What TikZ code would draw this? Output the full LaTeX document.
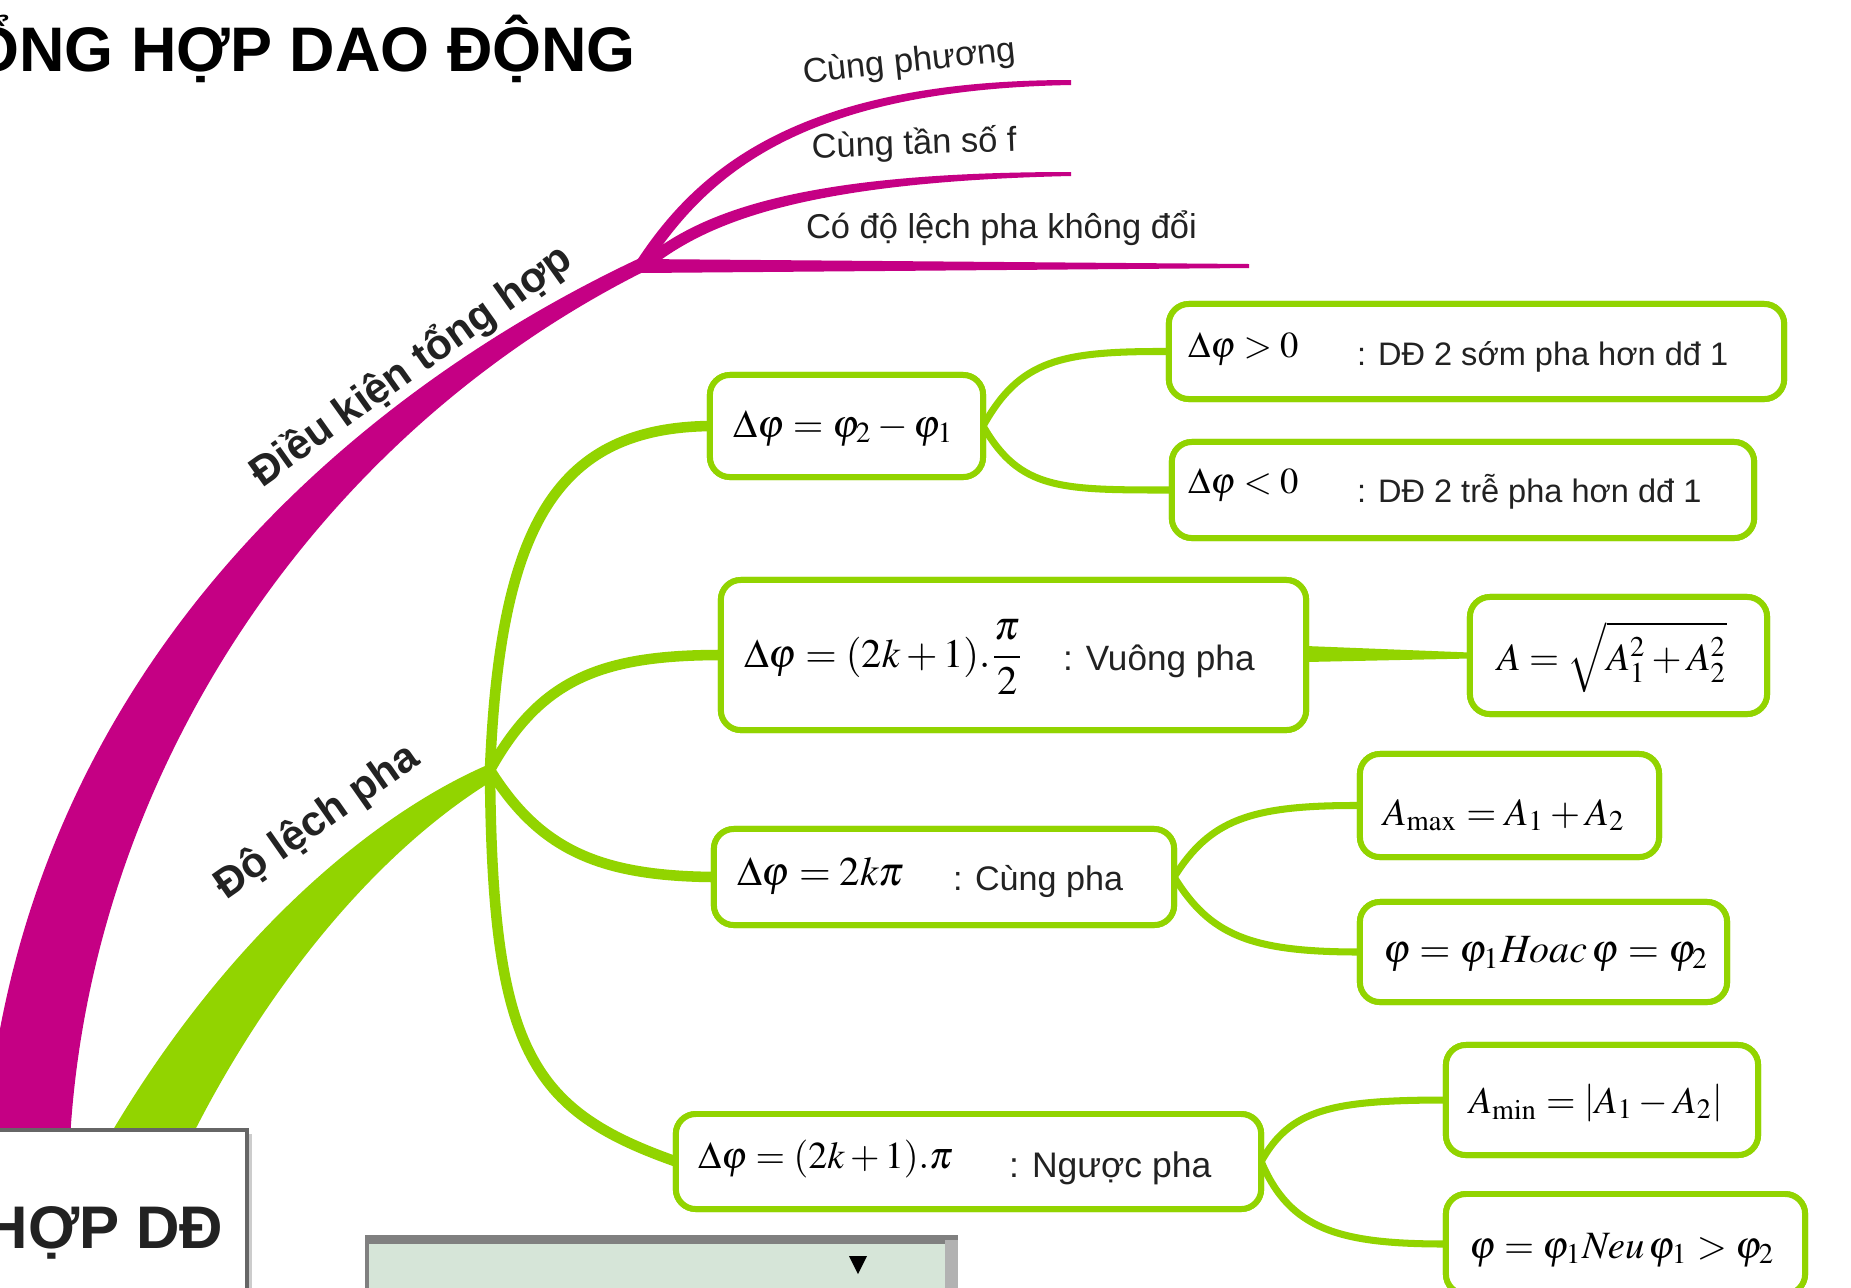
\documentclass[tikz,border=0pt]{standalone}
\usepackage{amsmath}
\usepackage{mathptmx}
\usepackage[no-math]{fontspec}
\setmainfont{Liberation Sans}
\usetikzlibrary{calc}
\definecolor{mag}{RGB}{197,0,132}
\definecolor{grn}{RGB}{146,212,0}
\definecolor{ink}{RGB}{34,34,34}
\definecolor{panel}{RGB}{214,229,216}
\newcommand{\fsz}[1]{\fontsize{#1}{#1}\selectfont}
\begin{document}
\begin{tikzpicture}[x=0.01cm,y=-0.01cm,
  gbox/.style={draw=grn, line width=1.7pt, rounded corners=0.2cm, fill=white, inner sep=0pt, outer sep=0pt},
  glink/.style={draw=grn, line width=2pt},
  gtrunk/.style={draw=grn, line width=3pt},
  lbl/.style={inner sep=0pt, outer sep=0pt, text=ink},
  mth/.style={inner sep=0pt, outer sep=0pt, text=black, anchor=base west},
]
\useasboundingbox (0,0) rectangle (1851,1287);
\clip (0,0) rectangle (1851,1287);
\fill[white] (0,0) rectangle (1851,1287);

% title
\node[lbl, anchor=base east, text=black, font=\fsz{17.9pt}\bfseries] (title) at (636,71) {ỔNG HỢP DAO ĐỘNG};

% named points
\coordinate (mf) at (640,264);
\coordinate (gj) at (490,770);

% magenta main band
\fill[mag] (640,258) .. controls (380,380) and (25,650) .. (-15,1140)
  -- (70,1140) .. controls (90,780) and (310,440) .. (643,272) -- cycle;

% green main band
\fill[grn] (492,763) .. controls (380,810) and (230,930) .. (107,1140)
  -- (190,1140) .. controls (270,980) and (380,850) .. (492,781) -- cycle;

% magenta leaves
\coordinate (l1) at (1071,82);
\coordinate (l2) at (1071,174);
\coordinate (l3) at (1249,266);
\fill[mag] ($(mf)+(-4,-2)$) .. controls (697,168) and (800,80) .. ($(l1)+(0,-2)$) -- ($(l1)+(0,3)$) .. controls (800,90) and (707,176) .. ($(mf)+(8,2)$) -- cycle;
\fill[mag] ($(mf)+(2,-4)$) .. controls (700,212) and (800,172) .. ($(l2)+(0,-2)$) -- ($(l2)+(0,2)$) .. controls (800,182) and (706,224) .. ($(mf)+(10,4)$) -- cycle;
\fill[mag] ($(mf)+(0,-5)$) -- ($(l3)+(0,-2)$) -- ($(l3)+(0,2)$) -- ($(mf)+(0,9)$) -- cycle;

\node[lbl, anchor=base west, rotate=6, font=\fsz{9.8pt}] (t1) at (804,83) {Cùng phương};
\node[lbl, anchor=base west, rotate=2, font=\fsz{9.8pt}] (t2) at (812,158) {Cùng tần số f};
\node[lbl, anchor=base west, font=\fsz{9.8pt}] (t3) at (806,238) {Có độ lệch pha không đổi};

% branch labels
\node[lbl, anchor=base west, rotate=35.5, font=\fsz{12pt}\bfseries] (dk) at (262,488) {Điều kiện tổng hợp};
\node[lbl, anchor=base west, rotate=35, font=\fsz{12pt}\bfseries] (dl) at (226,900) {Độ lệch pha};

% boxes
\node[gbox, minimum width=2.73cm, minimum height=1.02cm] (A) at (846.5,426) {};
\node[gbox, minimum width=6.15cm, minimum height=0.95cm] (B) at (1476.5,351.5) {};
\node[gbox, minimum width=5.82cm, minimum height=0.96cm] (C) at (1463,490) {};
\node[gbox, minimum width=5.85cm, minimum height=1.50cm] (D) at (1013.5,655) {};
\node[gbox, minimum width=2.97cm, minimum height=1.17cm] (E) at (1618.5,655.5) {};
\node[gbox, minimum width=4.60cm, minimum height=0.96cm] (F) at (944,877) {};
\node[gbox, minimum width=2.99cm, minimum height=1.03cm] (G) at (1509.5,805.5) {};
\node[gbox, minimum width=3.67cm, minimum height=1.00cm] (H) at (1543.5,952) {};
\node[gbox, minimum width=5.85cm, minimum height=0.95cm] (I) at (968.5,1161.5) {};
\node[gbox, minimum width=3.12cm, minimum height=1.10cm] (J) at (1602,1100) {};
\node[gbox, minimum width=3.59cm, minimum height=1.00cm] (K) at (1625.5,1244) {};

% green connectors from the junction
\draw[gtrunk] (gj) .. controls (500,520) and (560,428) .. (A.west);
\draw[gtrunk] (gj) .. controls (540,680) and (600,655) .. (D.west);
\draw[gtrunk] (gj) .. controls (540,850) and (600,876) .. (F.west);
\draw[gtrunk] (gj) .. controls (492,1050) and (530,1110) .. (I.west);

% box-to-box connectors
\draw[glink] (A.east) .. controls (1020,360) and (1060,351) .. (B.west);
\draw[glink] (A.east) .. controls (1020,490) and (1060,490) .. (C.west);
\fill[grn] ($(D.east)+(0,-9)$) -- ($(E.west)+(0,-3)$) -- ($(E.west)+(0,3)$) -- ($(D.east)+(0,7)$) -- cycle;
\draw[glink] (F.east) .. controls (1210,820) and (1250,805) .. (G.west);
\draw[glink] (F.east) .. controls (1210,935) and (1250,952) .. (H.west);
\draw[glink] (I.east) .. controls (1290,1110) and (1330,1100) .. (J.west);
\draw[glink] (I.east) .. controls (1290,1230) and (1340,1244) .. (K.west);

% redraw box borders over connector ends
\foreach \b in {A,B,C,D,E,F,G,H,I,J,K}{
  \draw[grn, line width=1.7pt, rounded corners=0.2cm, fill=white] (\b.north west) rectangle (\b.south east);
}

% box contents
\node[mth, font=\fsz{11.2pt}] (mA) at (733,437) {$\Delta\varphi = \varphi_2 - \varphi_1$};
\node[mth, font=\fsz{10.4pt}] (mB) at (1188,357) {$\Delta\varphi > 0$};
\node[lbl, anchor=base west, font=\fsz{9.25pt}] (tB) at (1357,365) {: DĐ 2 sớm pha hơn dđ 1};
\node[mth, font=\fsz{10.4pt}] (mC) at (1188,493) {$\Delta\varphi < 0$};
\node[lbl, anchor=base west, font=\fsz{9.25pt}] (tC) at (1357,502) {: DĐ 2 trễ pha hơn dđ 1};
\node[mth, font=\fsz{11.5pt}] (mD) at (744,667) {$\Delta\varphi = (2k+1).\dfrac{\pi}{2}$};
\node[lbl, anchor=base west, font=\fsz{10pt}] (tD) at (1063,670) {: Vuông pha};
\node[mth, font=\fsz{11pt}] (mE) at (1497,670) {$A = \sqrt{A_1^2 + A_2^2}$};
\node[mth, font=\fsz{11.6pt}] (mF) at (737,885) {$\Delta\varphi = 2k\pi$};
\node[mth, font=\fsz{11pt}] (mG) at (1383,825) {$A_{\max} = A_1 + A_2$};
\node[lbl, anchor=base west, font=\fsz{9.7pt}] (tF) at (953,890) {: Cùng pha};
\node[mth, font=\fsz{11.4pt}] (mH) at (1383,962) {$\varphi = \varphi_1 \mathit{Hoac}\,\varphi = \varphi_2$};
\node[mth, font=\fsz{10.8pt}] (mI) at (698,1168) {$\Delta\varphi = (2k+1).\pi$};
\node[lbl, anchor=base west, font=\fsz{10.1pt}] (tI) at (1009,1177) {: Ngược pha};
\node[mth, font=\fsz{10.8pt}] (mJ) at (1469,1113) {$A_{\min} = \left|A_1 - A_2\right|$};
\node[mth, font=\fsz{11pt}] (mK) at (1469,1258) {$\varphi = \varphi_1 \mathit{Neu}\,\varphi_1 > \varphi_2$};

% root box (bottom left)
\fill[black!20] (-40,1134) rectangle (252,1330);
\node[draw=black!60, line width=1.2pt, fill=white, inner sep=0pt, outer sep=0pt, minimum width=2.9cm, minimum height=2cm, anchor=north east] (root) at (247,1130) {};
\node[lbl, anchor=base east, font=\fsz{17.1pt}\bfseries] (roottxt) at (223,1248) {HỢP DĐ};

% bottom panel
\fill[black!50] (365,1235) rectangle (958,1300);
\fill[black!30] (945,1240) rectangle (958,1300);
\fill[panel] (369,1244) rectangle (945,1300);
\coordinate (tri) at (858,1265);
\fill[black] ($(tri)+(-9,-9)$) -- ($(tri)+(9,-9)$) -- ($(tri)+(0,9)$) -- cycle;
\end{tikzpicture}
\end{document}
